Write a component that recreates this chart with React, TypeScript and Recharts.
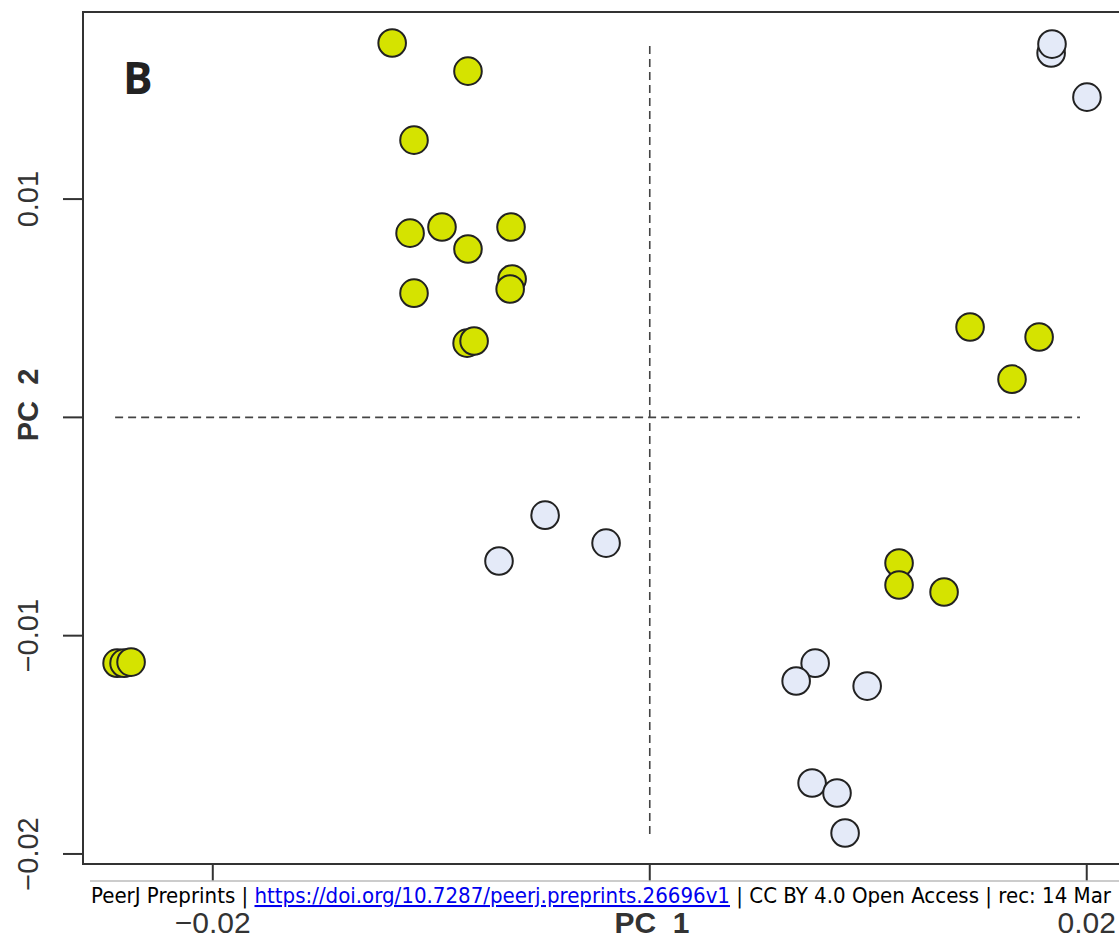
import React from 'react';
import {
  ScatterChart,
  Scatter,
  XAxis,
  YAxis,
  ReferenceLine,
  ReferenceArea,
} from 'recharts';

// PCA scores, PC1 / PC2, one pair per sample (later pairs draw on top)
const greenScores: [number, number][] = [
  [-0.01179, 0.01715],
  [-0.00832, 0.01586],
  [-0.01079, 0.0127],
  [-0.01097, 0.00844],
  [-0.00951, 0.00872],
  [-0.00832, 0.00771],
  [-0.00635, 0.00872],
  [-0.0063, 0.00634],
  [-0.00639, 0.00588],
  [-0.01079, 0.00569],
  [-0.00836, 0.0034],
  [-0.00804, 0.0035],
  [0.01466, 0.00414],
  [0.01782, 0.00368],
  [0.01658, 0.00175],
  [0.01141, -0.00667],
  [0.01141, -0.00768],
  [0.01347, -0.008],
  [-0.02438, -0.01126],
  [-0.02406, -0.01126],
  [-0.02374, -0.01121],
];

const paleScores: [number, number][] = [
  [0.01837, 0.01669],
  [0.01841, 0.0171],
  [0.02001, 0.01467],
  [-0.00479, -0.00448],
  [-0.0069, -0.00658],
  [-0.002, -0.00576],
  [0.00757, -0.01126],
  [0.0067, -0.01208],
  [0.00995, -0.01231],
  [0.00743, -0.01675],
  [0.00857, -0.01721],
  [0.00894, -0.01904],
];

const xTicks = [-0.02, 0, 0.02];
const yTicks = [-0.02, -0.01, 0, 0.01];
const xDomain: [number, number] = [-0.02594, 0.02198];
const yDomain: [number, number] = [-0.02046, 0.01857];

// dashed cross through the origin
const hSegment: [number, number] = [-0.02447, 0.01969];
const vSegment: [number, number] = [-0.01909, 0.01705];

const toPoints = (rows: [number, number][]) => rows.map(([pc1, pc2]) => ({ pc1, pc2 }));

const AXIS_FONT = "'Liberation Sans', Arial, Helvetica, sans-serif";
const INK = '#333';

const fmt = (v: number) => (v === 0 ? '' : (v < 0 ? '\u2212' : '') + Math.abs(v).toFixed(2));

const XTick = ({ x, payload }: any) => (
  <text x={x} y={933} textAnchor="middle" fontSize={30} fill={INK} fontFamily={AXIS_FONT}>
    {fmt(payload.value)}
  </text>
);

const YTick = ({ y, payload }: any) => (
  <text
    x={38}
    y={y}
    transform={`rotate(-90, 38, ${y})`}
    textAnchor="middle"
    fontSize={29}
    fill={INK}
    fontFamily={AXIS_FONT}
  >
    {fmt(payload.value)}
  </text>
);

const dot = (fill: string) => (props: any) => (
  <circle cx={props.cx} cy={props.cy} r={13.8} fill={fill} stroke="#222" strokeWidth={2} />
);

export default function App() {
  return (
    <div
      style={{
        position: 'fixed',
        left: 0,
        top: 0,
        width: 1119,
        height: 938,
        overflow: 'hidden',
        background: '#fff',
      }}
    >
      <ScatterChart width={1140} height={938} margin={{ top: 12, right: 10, bottom: 0, left: 0 }}>
        <XAxis
          type="number"
          dataKey="pc1"
          domain={xDomain}
          allowDataOverflow
          ticks={xTicks}
          tick={<XTick />}
          tickSize={20}
          tickLine={{ stroke: INK, strokeWidth: 2 }}
          axisLine={false}
          height={74}
        />
        <YAxis
          type="number"
          dataKey="pc2"
          domain={yDomain}
          allowDataOverflow
          ticks={yTicks}
          tick={<YTick />}
          tickSize={20}
          tickLine={{ stroke: INK, strokeWidth: 2 }}
          axisLine={false}
          width={83}
        />
        <ReferenceArea
          x1={xDomain[0]}
          x2={xDomain[1]}
          y1={yDomain[0]}
          y2={yDomain[1]}
          fill="none"
          stroke={INK}
          strokeWidth={2}
          ifOverflow="visible"
        />
        <ReferenceLine
          segment={[
            { x: hSegment[0], y: 0 },
            { x: hSegment[1], y: 0 },
          ]}
          stroke="#444"
          strokeWidth={1.6}
          strokeDasharray="8 5"
        />
        <ReferenceLine
          segment={[
            { x: 0, y: vSegment[0] },
            { x: 0, y: vSegment[1] },
          ]}
          stroke="#444"
          strokeWidth={1.6}
          strokeDasharray="8 5"
        />
        <Scatter data={toPoints(greenScores)} shape={dot('#d5e300')} isAnimationActive={false} />
        <Scatter data={toPoints(paleScores)} shape={dot('#e4eaf8')} isAnimationActive={false} />
      </ScatterChart>

      <svg
        width={1119}
        height={938}
        style={{ position: 'absolute', left: 0, top: 0, pointerEvents: 'none' }}
      >
        <text x={123} y={94} fontSize={44} fontWeight={700} fill="#222" fontFamily="'Open Sans', sans-serif">
          B
        </text>
        <text
          x={652}
          y={933}
          textAnchor="middle"
          fontSize={30}
          fontWeight={700}
          fill={INK}
          fontFamily={AXIS_FONT}
          style={{ whiteSpace: 'pre' }}
        >
          PC  1
        </text>
        <text
          x={38}
          y={405}
          transform="rotate(-90, 38, 405)"
          textAnchor="middle"
          fontSize={29}
          fontWeight={700}
          fill={INK}
          fontFamily={AXIS_FONT}
          style={{ whiteSpace: 'pre' }}
        >
          PC  2
        </text>

        {/* preprint stamp across the bottom */}
        <rect x={90} y={881} width={1029} height={26} fill="#fff" />
        <line x1={90} y1={881} x2={1119} y2={881} stroke="#bbb" strokeWidth={1.5} />
        <text
          x={91}
          y={903}
          fontSize={20.5}
          fill="#000"
          fontFamily="'DejaVu Sans Condensed', 'DejaVu Sans', sans-serif"
          textLength={1020}
          lengthAdjust="spacingAndGlyphs"
        >
          PeerJ Preprints |{' '}
          <tspan fill="#0000ee" textDecoration="underline">
            https://doi.org/10.7287/peerj.preprints.26696v1
          </tspan>{' '}
          | CC BY 4.0 Open Access | rec: 14 Mar
        </text>
      </svg>
    </div>
  );
}
